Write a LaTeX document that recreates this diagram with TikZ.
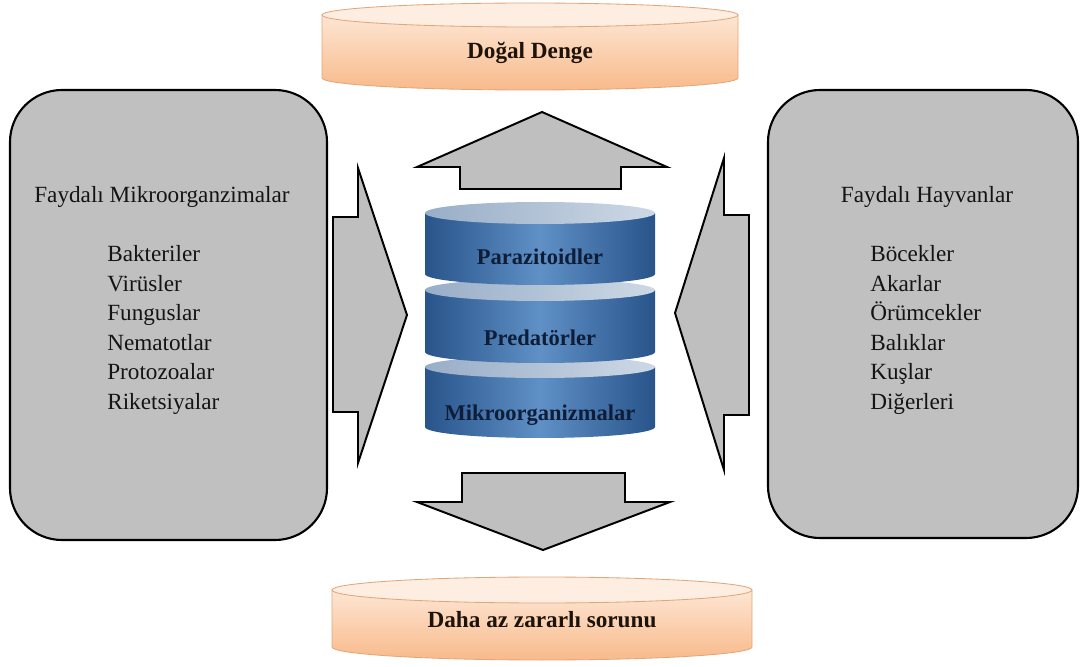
\documentclass[tikz,border=0pt]{standalone}
\usepackage{fontspec}
\setmainfont{Liberation Serif}
\usepackage{xcolor}
\definecolor{boxgray}{HTML}{C0C0C0}
\definecolor{arrowgray}{HTML}{BFBFBF}
\definecolor{peachlt}{HTML}{FDE6D4}
\definecolor{peachdk}{HTML}{F8BA8B}
\definecolor{peachedge}{HTML}{E3A679}
\definecolor{steeldk}{HTML}{28548A}
\definecolor{steellt}{HTML}{5F90C6}
\definecolor{steeltop}{HTML}{C8D4E2}
\definecolor{navytext}{HTML}{0E1D38}

\tikzset{
  panel/.style={draw=black, line width=1.5pt, fill=boxgray, rounded corners=1.3cm},
  blockarrow/.style={draw=black, line width=1.4pt, fill=arrowgray, line join=miter},
  boxtext/.style={font=\fontsize{16.5}{21}\selectfont, text=black!92, inner sep=0pt},
  drumtext/.style={font=\bfseries\fontsize{16}{19}\selectfont, text=navytext},
  peachtext/.style={font=\bfseries\fontsize{16.5}{20}\selectfont, text=black!85!brown},
  peachside/.style={top color=peachlt, bottom color=peachdk, draw=peachedge, line width=0.6pt},
  peachtop/.style={fill=peachlt!70!white, draw=peachedge, line width=0.6pt},
  steelside/.style={left color=steeldk, right color=steeldk, middle color=steellt},
  steelface/.style={left color=steeltop!70!steeldk, right color=steeltop!90!white},
}

\begin{document}
\begin{tikzpicture}[x=0.025cm,y=0.025cm]
\useasboundingbox (0,0) rectangle (1080,666);
% cx, ytop, ybot, rx, ry, side style, face style
\newcommand{\drum}[7]{
  \path[#6] (#1-#4,#2) -- (#1-#4,#3) arc (180:360:#4 and #5) -- (#1+#4,#2) -- cycle;
  \path[#7] (#1,#2) ellipse (#4 and #5);
}

% ---------- top and bottom discs ----------
\drum{530}{651}{588}{208}{12}{peachside}{peachtop}
\node[peachtext] (denge) at (530,613) {Doğal Denge};

\drum{542}{76}{19}{210}{13}{peachside}{peachtop}
\node[peachtext] (sorun) at (542,46) {Daha az zararlı sorunu};

% ---------- central stack (bottom first) ----------
\drum{540}{299}{239}{115}{11}{steelside}{steelface}
\drum{540}{376}{314}{115}{11}{steelside}{steelface}
\drum{540}{453}{392}{115}{11}{steelside}{steelface}
\node[drumtext] (para)  at (540,409) {Parazitoidler};
\node[drumtext] (pred)  at (540,328) {Predatörler};
\node[drumtext] (mikro) at (540,251) {Mikroorganizmalar};

% ---------- block arrows ----------
\draw[blockarrow] (460,477) -- (460,499) -- (417,499) -- (542,554) -- (667,499) -- (621,499) -- (621,477) -- cycle; % up
\draw[blockarrow] (462,193) -- (625,193) -- (625,164) -- (670,164) -- (543,116) -- (417,164) -- (462,164) -- cycle; % down
\draw[blockarrow] (333,254) -- (333,449) -- (358,449) -- (358,498) -- (407,351) -- (358,203) -- (358,254) -- cycle;  % from left
\draw[blockarrow] (749,251) -- (749,451) -- (724,451) -- (724,508) -- (675,353) -- (724,196) -- (724,251) -- cycle;  % from right

% ---------- side panels ----------
\draw[panel] (10,126) rectangle (327,576);
\draw[panel] (768,128) rectangle (1078,576);

\node[boxtext] (faydamik) at (162,469) {Faydalı Mikroorganzimalar};
\foreach \name [count=\i from 0] in {Bakteriler,Virüsler,Funguslar,Nematotlar,Protozoalar,Riketsiyalar}
  \node[boxtext, anchor=base west] (mik\i) at (107,404-29.5*\i) {\name};

\node[boxtext] (faydahay) at (927,469) {Faydalı Hayvanlar};
\foreach \name [count=\i from 0] in {Böcekler,Akarlar,Örümcekler,Balıklar,Kuşlar,Diğerleri}
  \node[boxtext, anchor=base west] (hay\i) at (870,404-29.5*\i) {\name};

\end{tikzpicture}
\end{document}
